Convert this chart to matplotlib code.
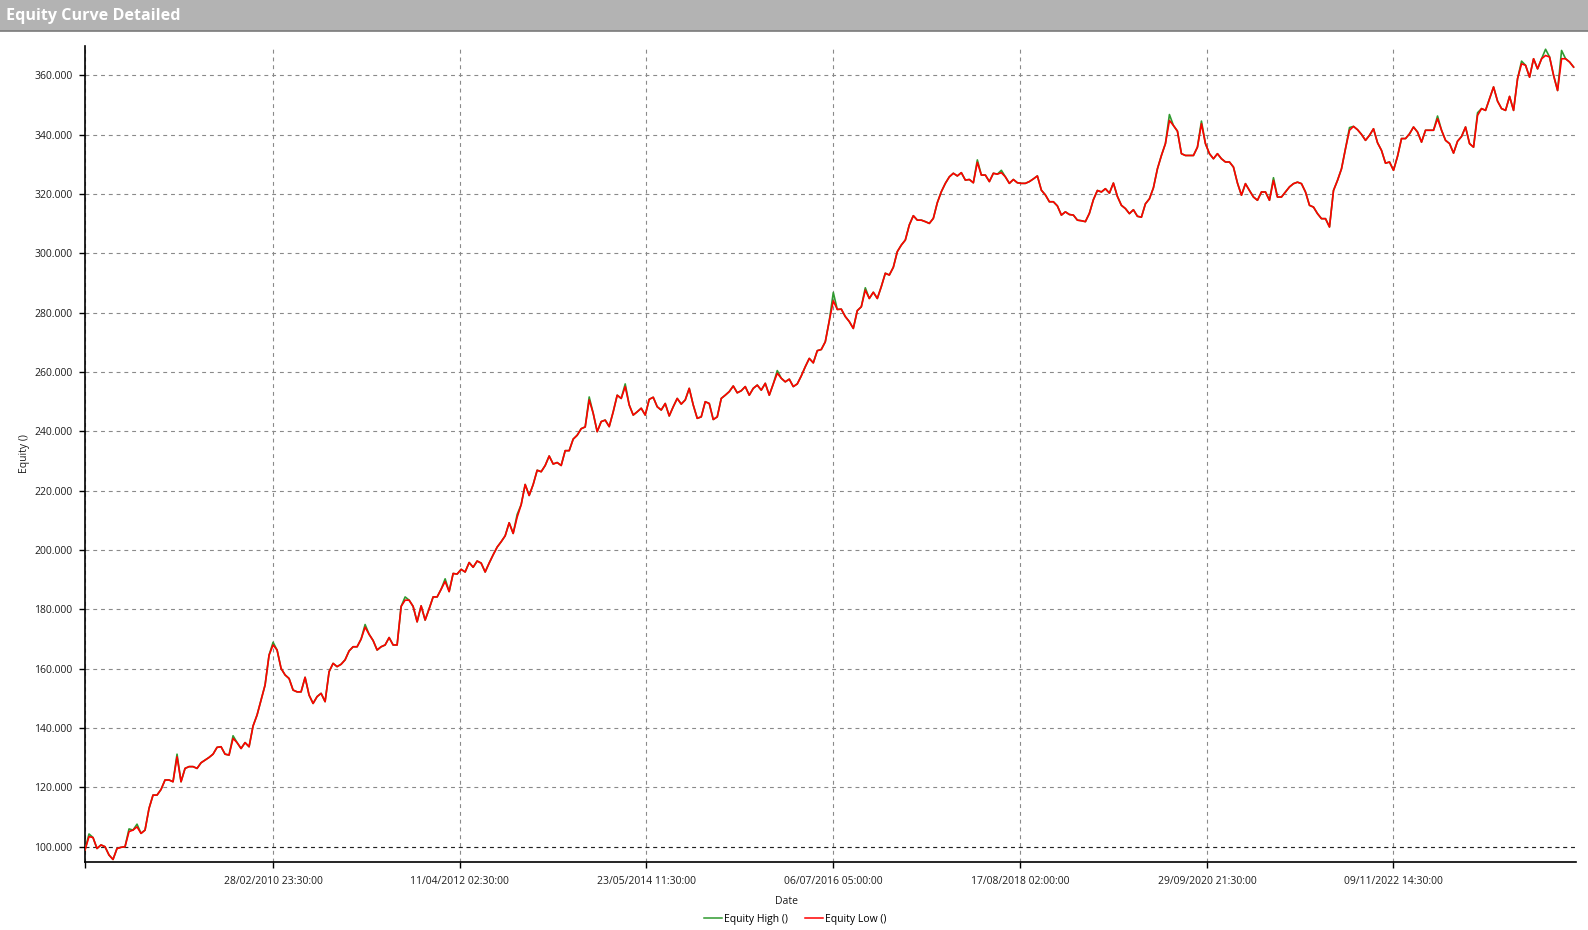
import matplotlib
matplotlib.use("Agg")
import matplotlib.pyplot as plt
import matplotlib.dates as mdates
from matplotlib.patches import Rectangle
from matplotlib.lines import Line2D
from matplotlib.ticker import FuncFormatter
import pandas as pd

plt.rcParams['font.family'] = ['Open Sans', 'DejaVu Sans']

# ---------------- data (equity in thousands) ----------------
data_start = "2008-01-13 00:00"
data_end = "2024-11-24 00:00"
axis_end = "2024-12-04 00:00"
initial_equity = 100.0

equity_low = [
    98.9, 103.4, 103.1, 99.4, 100.6, 100.0, 97.2, 95.7, 99.4, 99.8,
    100.0, 105.1, 105.6, 106.7, 104.5, 105.6, 112.9, 117.4, 117.4, 119.3,
    122.5, 122.5, 121.9, 130.3, 121.9, 126.4, 127.0, 127.0, 126.4, 128.3,
    129.2, 130.1, 131.2, 133.5, 133.7, 131.2, 130.9, 136.5, 135.1, 133.1,
    135.1, 133.7, 140.7, 144.4, 149.4, 154.5, 164.6, 168.0, 166.3, 160.1,
    157.9, 156.7, 152.8, 152.2, 152.2, 157.1, 151.1, 148.3, 150.6, 151.7,
    148.9, 159.0, 161.8, 160.7,
    161.5, 163.0, 166.0, 167.4, 167.4, 170.0,
    174.0, 171.6, 169.5, 166.3, 167.4, 168.0, 170.5, 168.0, 168.0, 181.0,
    183.1, 183.1, 181.0, 175.8, 181.2, 176.4, 180.2, 184.2, 184.2, 186.8,
    189.4, 186.0, 192.1, 191.9, 193.5, 192.6, 195.8, 194.2, 196.3, 195.6,
    192.6, 195.6, 198.4, 201.0, 202.8, 204.8, 209.2, 205.6, 211.1, 215.3,
    222.1, 218.4, 222.1, 226.9, 226.4, 228.5, 231.7, 229.0, 229.5, 228.5,
    233.5, 233.5, 237.4, 238.7, 240.9, 241.5, 250.6,
    246.1, 239.9, 243.3,
    243.8, 241.6, 246.6, 252.2, 251.1, 255.1, 248.9, 245.5, 246.6, 247.8,
    245.5, 250.8, 251.5, 248.3, 247.2, 249.4, 245.2, 248.3, 251.1, 249.2,
    250.6, 254.5, 248.9, 244.4, 244.9, 250.0, 249.4, 244.0, 244.9, 251.1,
    252.2, 253.4, 255.3, 253.0, 253.7, 255.1, 252.2, 254.5, 255.6, 253.9,
    256.2, 252.2, 256.0, 259.6, 257.9, 256.7, 257.6, 255.1, 256.0, 258.7,
    261.8, 264.6, 263.1, 267.2, 267.6, 270.2, 277.3, 284.0, 281.1,
    281.2, 278.7, 277.0, 274.7, 280.7, 282.0, 287.6, 284.8, 286.9, 284.8, 288.8,
    293.3, 292.7, 295.3, 300.6, 302.8, 304.5, 309.6, 312.7, 311.2, 311.2,
    310.7, 310.1, 311.8, 317.1, 320.8, 323.6, 325.8, 327.0, 326.1, 327.2,
    324.7, 324.9, 323.8, 330.7, 326.4, 326.4, 324.2, 327.0, 326.7, 327.2,
    325.8, 323.6, 324.9, 323.8, 323.6, 323.6, 324.2, 325.1, 326.1, 321.3,
    319.7, 317.4, 317.4, 316.0, 312.9, 314.0, 313.1, 312.9, 311.2, 311.0, 310.7, 313.5,
    318.1, 321.2, 320.7, 321.8, 320.3, 323.7, 319.2, 316.2,
    315.1, 313.4, 314.7, 312.5, 312.2, 316.7, 318.4, 322.1, 328.5, 333.0,
    337.0, 344.8, 343.1, 341.2, 333.6, 333.0, 333.0, 333.0, 335.8, 343.7,
    337.0, 333.6, 331.9, 333.6, 331.9, 330.8, 330.8, 329.1, 323.7, 319.6,
    323.5, 321.2, 319.0, 317.9, 320.7, 320.7, 317.9, 324.6, 319.0, 319.0,
    320.7, 322.4, 323.5, 324.0, 323.5, 320.7, 316.2, 315.6, 313.4, 311.7,
    311.7, 308.9, 321.2, 324.6,
    328.5, 335.3, 341.5, 342.8, 341.7, 340.1,
    338.1, 339.8, 342.0, 337.3, 334.7, 330.4, 330.8, 328.0, 332.7, 338.7,
    338.7, 340.3, 342.6, 340.9, 337.5, 341.5, 341.5, 341.5, 345.4, 341.5,
    338.1, 337.0, 333.8, 337.8, 339.4, 342.6, 337.0, 335.8, 346.5, 348.8,
    348.2, 352.1, 356.1, 351.3, 348.8, 348.2, 352.9, 348.2, 358.9, 363.9,
    363.4, 359.4, 365.6, 362.2, 365.6, 366.7, 366.2, 360.0, 354.9, 365.6,
    365.6, 364.5, 362.8,
]

# points where the "Equity High" series pokes above the low series
high_peak_index = [1, 11, 13, 23, 37, 47, 70, 80, 90, 108, 126, 135, 173, 187,
                   195, 223, 229, 271, 279, 297, 316, 338, 348, 359, 365, 369]
high_peak_value = [104.3, 106.0, 107.6, 131.2, 137.4, 168.9, 174.9, 184.2, 190.3,
                   212.0, 251.6, 256.0, 260.5, 286.8, 288.4, 331.5, 328.0, 346.8,
                   344.6, 325.5, 342.4, 346.3, 347.4, 364.8, 368.8, 368.4]

y_ticks = [100, 120, 140, 160, 180, 200, 220, 240, 260, 280, 300, 320, 340, 360]
x_tick_labels = ["28/02/2010 23:30:00", "11/04/2012 02:30:00", "23/05/2014 11:30:00",
                 "06/07/2016 05:00:00", "17/08/2018 02:00:00", "29/09/2020 21:30:00",
                 "09/11/2022 14:30:00"]

equity_high = list(equity_low)
for i, v in zip(high_peak_index, high_peak_value):
    equity_high[i] = v

dates = pd.date_range(data_start, data_end, periods=len(equity_low))
xd = mdates.date2num(dates.to_pydatetime())
tick_dates = pd.to_datetime(x_tick_labels, format="%d/%m/%Y %H:%M:%S")
tick_pos = [mdates.date2num(pd.Timestamp(data_start).to_pydatetime())] + \
    list(mdates.date2num(tick_dates.to_pydatetime()))

# ---------------- figure ----------------
W, H = 1588, 930
fig = plt.figure(figsize=(W / 100, H / 100), dpi=100)
fig.patch.set_facecolor("white")

# title bar
bar_h = 31
fig.patches.append(Rectangle((0, 1 - bar_h / H), 1, bar_h / H, transform=fig.transFigure,
                             facecolor="#b3b3b3", edgecolor="none", zorder=0))
fig.add_artist(Line2D([0, 1], [1 - bar_h / H, 1 - bar_h / H], transform=fig.transFigure,
                      color="#7a7a7a", lw=1.2))
fig.text(6 / W, 1 - 16 / H, "Equity Curve Detailed", color="white", fontweight="bold",
         fontsize=11.6, va="center", ha="left")

left, right, top, bottom = 85, 1576, 46, 862
ax = fig.add_axes([left / W, 1 - bottom / H, (right - left) / W, (bottom - top) / H])

ax.plot(xd, equity_high, color="#2f9a2f", lw=1.2, zorder=3)
ax.plot(xd, equity_low, color="#ff0000", lw=1.2, zorder=4)

ax.set_xlim(tick_pos[0], mdates.date2num(pd.Timestamp(axis_end).to_pydatetime()))
ax.set_ylim(94.85, 369.9)

ax.set_yticks(y_ticks)
ax.yaxis.set_major_formatter(FuncFormatter(lambda v, p: f"{v * 1000:,.0f}".replace(",", ".")))
ax.set_xticks(tick_pos)
ax.set_xticklabels([""] + x_tick_labels)

ax.set_axisbelow(True)
ax.grid(True, color="#8a8a8a", linestyle=(0, (3.5, 3.5)), linewidth=0.8)
ax.axhline(initial_equity, color="#202020", linestyle=(0, (3.5, 3.5)), linewidth=0.8, zorder=2)

for s in ["top", "right"]:
    ax.spines[s].set_visible(False)
for s in ["left", "bottom"]:
    ax.spines[s].set_color("black")
    ax.spines[s].set_linewidth(1.2)

ax.tick_params(axis="y", length=4, width=1, pad=5, labelsize=7.5, labelcolor="#1e1e1e")
ax.tick_params(axis="x", length=4.5, width=1, pad=5.5, labelsize=7.5, labelcolor="#1e1e1e")

fig.text(24 / W, 1 - 454 / H, "Equity ()", rotation=90, ha="center", va="center",
         fontsize=7.5, color="#1e1e1e")
fig.text(787 / W, 1 - 901 / H, "Date", ha="center", va="center", fontsize=7.5, color="#1e1e1e")

handles = [Line2D([], [], color="#2f9a2f", lw=1.1), Line2D([], [], color="#ff0000", lw=1.1)]
fig.legend(handles, ["Equity High ()", "Equity Low ()"], loc="center",
           bbox_to_anchor=(795 / W, 1 - 919 / H), ncol=2, frameon=False, fontsize=7.5,
           handlelength=1.8, handletextpad=0.15, columnspacing=1.6, borderpad=0)

fig.savefig("out.png", dpi=100, facecolor="white")
